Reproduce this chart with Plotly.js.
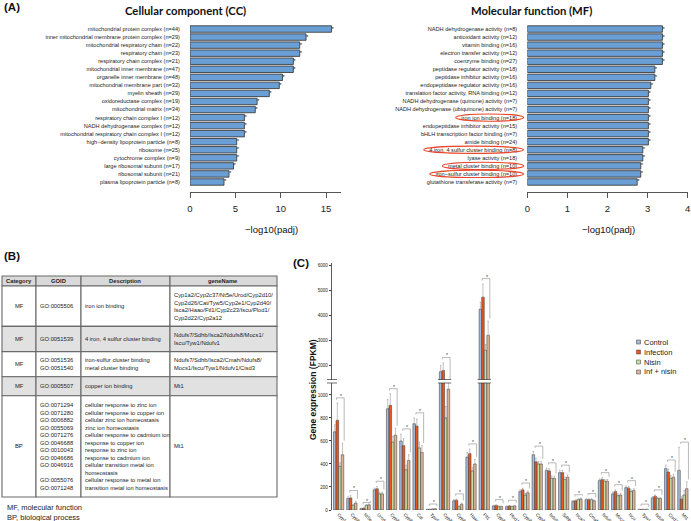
<!DOCTYPE html>
<html><head><meta charset="utf-8">
<script src="https://cdn.plot.ly/plotly-3.0.1.min.js"></script>
<style>html,body{margin:0;padding:0;background:#fff}#chart{width:691px;height:521px}</style>
</head><body><div id="chart"></div>
<script>
// ---------- Panel A data ----------
const ccTerms = [
  "mitochondrial protein complex (n=44)",
  "inner mitochondrial membrane protein complex (n=29)",
  "mitochondrial respiratory chain (n=22)",
  "respiratory chain (n=23)",
  "respiratory chain complex (n=21)",
  "mitochondrial inner membrane (n=47)",
  "organelle inner membrane (n=48)",
  "mitochondrial membrane part (n=32)",
  "myelin sheath (n=29)",
  "oxidoreductase complex (n=19)",
  "mitochondrial matrix (n=34)",
  "respiratory chain complex I (n=12)",
  "NADH dehydrogenase complex (n=12)",
  "mitochondrial respiratory chain complex I (n=12)",
  "high−density lipoprotein particle (n=8)",
  "ribosome (n=25)",
  "cytochrome complex (n=9)",
  "large ribosomal subunit (n=17)",
  "ribosomal subunit (n=21)",
  "plasma lipoprotein particle (n=8)"
];
const ccValues = [15.6,12.8,12.1,12.1,11.4,11.4,10.2,9.85,8.75,7.4,7.2,6.0,6.0,6.0,5.15,5.15,5.15,4.8,4.3,3.75];

const mfTerms = [
  "NADH dehydrogenase activity (n=8)",
  "antioxidant activity (n=12)",
  "vitamin binding (n=16)",
  "electron transfer activity (n=12)",
  "coenzyme binding (n=27)",
  "peptidase regulator activity (n=18)",
  "peptidase inhibitor activity (n=16)",
  "endopeptidase regulator activity (n=16)",
  "translation factor activity, RNA binding (n=12)",
  "NADH dehydrogenase (quinone) activity (n=7)",
  "NADH dehydrogenase (ubiquinone) activity (n=7)",
  "iron ion binding (n=18)",
  "endopeptidase inhibitor activity (n=15)",
  "bHLH transcription factor binding (n=7)",
  "amide binding (n=24)",
  "4 iron, 4 sulfur cluster binding (n=8)",
  "lyase activity (n=18)",
  "metal cluster binding (n=10)",
  "iron−sulfur cluster binding (n=10)",
  "glutathione transferase activity (n=7)"
];
const mfValues = [3.37,3.37,3.37,3.37,3.37,3.18,3.18,3.08,3.02,3.02,3.02,3.02,3.02,3.02,3.02,2.88,2.88,2.83,2.83,2.74];
const mfHighlighted = ["iron ion binding (n=18)","4 iron, 4 sulfur cluster binding (n=8)","metal cluster binding (n=10)","iron−sulfur cluster binding (n=10)"];
const ccTicks = [0,5,10,15];
const mfTicks = [0,1,2,3,4];

// ---------- Panel B data ----------
const tableHeader = ["Category","GOID","Description","geneName"];
const tableCategory = ["MF","MF","MF","MF","BP"];
const tableGOID = [
  ["GO:0005506"],
  ["GO:0051539"],
  ["GO:0051536","GO:0051540"],
  ["GO:0005507"],
  ["GO:0071294","GO:0071280","GO:0006882","GO:0055069","GO:0071276","GO:0046688","GO:0010043","GO:0046686","GO:0046916","","GO:0055076","GO:0071248"]
];
const tableDescription = [
  ["iron ion binding"],
  ["4 iron, 4 sulfur cluster binding"],
  ["iron-sulfur cluster binding","metal cluster binding"],
  ["copper ion binding"],
  ["cellular response to zinc ion","cellular response to copper ion","cellular zinc ion homeostasis","zinc ion homeostasis","cellular response to cadmium ion","response to copper ion","response to zinc ion","response to cadmium ion","cellular transition metal ion","homeostasis","cellular response to metal ion","transition metal ion homeostasis"]
];
const tableGeneName = [
  ["Cyp1a2/Cyp2c37/Nt5e/Urod/Cyp2d10/","Cyp2d26/Cat/Tyw5/Cyp2e1/Cyp2d40/","Isca2/Haao/Ftl1/Cyp2c23/Iscu/Plod1/","Cyp2d22/Cyp2a12"],
  ["Ndufs7/Sdhb/Isca2/Ndufs8/Mocs1/","Iscu/Tyw1/Ndufv1"],
  ["Ndufs7/Sdhb/Isca2/Cmah/Ndufs8/","Mocs1/Iscu/Tyw1/Ndufv1/Cisd3"],
  ["Mt1"],
  ["Mt1"]
];
const footnotes = ["MF, molecular function","BP, biological process"];

// ---------- Panel C data ----------
const genes = ["Cyp1a2","Cyp2c37","Nt5e","Urod","Cyp2d10","Cyp2d26","Cat","Tyw5","Cyp2e1","Cyp2d40","Haao","Ftl1","Cyp2c23","Plod1","Cyp2d22","Cyp2a12","Ndufs7","Sdhb","Isca2","Cmah","Ndufs8","Mocs1","Iscu","Tyw1","Ndufv1","Cisd3","Mt1"];
const seriesNames = ["Control","Infection","Nisin","Inf + nisin"];
const control   = [680,100,12,175,880,600,750,5,1750,80,460,4240,35,30,160,480,345,325,75,90,255,140,195,5,105,360,345];
const infection = [780,105,15,185,910,560,730,5,1800,85,490,4720,40,35,175,420,340,325,80,90,265,160,190,5,120,330,95];
const nisin     = [380,40,40,140,590,350,540,8,800,30,340,2600,30,30,130,400,275,265,90,90,250,125,160,5,100,275,130];
const infNisin  = [480,60,45,140,650,430,500,10,1050,50,400,3200,30,35,150,400,275,285,95,80,250,130,170,5,100,285,185];
const controlErr   = [60,15,5,15,80,60,50,2,250,10,40,280,5,5,15,30,20,20,8,8,15,15,15,1,10,30,200];
const infectionErr = [150,20,5,20,100,60,60,2,300,10,40,520,5,5,15,30,20,20,8,8,15,15,15,1,10,25,20];
const nisinErr     = [30,10,8,15,50,40,50,2,100,5,30,240,5,5,15,20,20,20,8,8,15,15,15,1,10,25,40];
const infNisinErr  = [100,15,8,15,60,50,60,2,250,10,40,560,5,5,15,20,20,20,8,8,15,15,15,1,10,25,60];
const lowerTicks = [0,200,400,600,800,1000];
const upperTicks = [2000,3000,4000,5000,6000];

// ---------- layout helpers ----------
const W = 691, H = 521;
const fx = p => p / W, fy = p => 1 - p / H;
const FONT = "Liberation Sans, Arial, sans-serif";
const TITLEFONT = "Lato, Liberation Sans, sans-serif";
const barBlue = "#6a9fd5";
const seriesColors = ["#a2bbd9","#e8561f","#c8dea4","#ddb596"];
const seriesVals = [control, infection, nisin, infNisin];
const seriesErrs = [controlErr, infectionErr, nisinErr, infNisinErr];

const lowerMax = 1104, upperMin = 1440, upperMax = 6080;

const traces = [];
const shapes = [];
const annotations = [];

// Panel A bars
traces.push({type:'bar', orientation:'h', x:ccValues, y:ccTerms, xaxis:'x', yaxis:'y', width:0.8,
  marker:{color:barBlue, line:{color:'#404040', width:0.9}}, hoverinfo:'skip'});
traces.push({type:'scatter', mode:'text', x:ccValues, y:ccTerms, xaxis:'x', yaxis:'y', text:ccValues.map(()=>'*'),
  textposition:'middle right', textfont:{size:6, family:FONT, color:'#222'}, cliponaxis:false, hoverinfo:'skip'});
traces.push({type:'bar', orientation:'h', x:mfValues, y:mfTerms, xaxis:'x2', yaxis:'y2', width:0.8,
  marker:{color:barBlue, line:{color:'#404040', width:0.9}}, hoverinfo:'skip'});
traces.push({type:'scatter', mode:'text', x:mfValues, y:mfTerms, xaxis:'x2', yaxis:'y2', text:mfValues.map(()=>'*'),
  textposition:'middle right', textfont:{size:6, family:FONT, color:'#222'}, cliponaxis:false, hoverinfo:'skip'});

// Panel C bars (lower and upper segment of broken axis)
['y3','y4'].forEach(ax => {
  seriesVals.forEach((vals, s) => {
    traces.push({type:'bar', x:genes, y:vals, xaxis:'x3', yaxis:ax, name:seriesNames[s], showlegend:false,
      marker:{color:seriesColors[s], line:{color:'#333', width:0.5}},
      error_y:{type:'data', symmetric:false, array:seriesErrs[s], arrayminus:vals.map(()=>0), color:'#9a9a9a', thickness:0.6, width:0.8},
      hoverinfo:'skip'});
  });
});

// Significance brackets computed from data
const brLine = {color:'#8a8a8a', width:0.6};
genes.forEach((g, i) => {
  const peak = Math.max(control[i]+controlErr[i], infection[i]+infectionErr[i]);
  const upper = peak > lowerMax;
  const ax = upper ? 'y4' : 'y3';
  const pad = upper ? 220 : 45;
  const top = peak + pad;
  let bottom = infNisin[i] + infNisinErr[i] + pad * 0.5;
  if (upper) bottom = Math.max(bottom, upperMin);
  const xl = i - 0.16, xr = i + 0.42;
  shapes.push({type:'line', xref:'x3', yref:ax, x0:xl, x1:xr, y0:top, y1:top, line:brLine});
  shapes.push({type:'line', xref:'x3', yref:ax, x0:xl, x1:xl, y0:top, y1:top - pad*0.35, line:brLine});
  shapes.push({type:'line', xref:'x3', yref:ax, x0:xr, x1:xr, y0:top, y1:bottom, line:brLine});
  annotations.push({xref:'x3', yref:ax, x:i+0.18, y:top, text:'*', showarrow:false, xanchor:'center', yanchor:'bottom', yshift:-3,
    font:{size:5, family:FONT, color:'#333'}});
  if (Math.max(control[i], infection[i], nisin[i], infNisin[i]) > lowerMax) {
    [379.5, 383].forEach(py => shapes.push({type:'line', xref:'x3', yref:'paper', x0:i-0.5, x1:i+0.5, y0:fy(py), y1:fy(py), line:{color:'#333', width:0.7}}));
  }
});
// axis break marks
[379.5, 383].forEach(py => shapes.push({type:'line', xref:'paper', yref:'paper', x0:fx(327), x1:fx(337), y0:fy(py), y1:fy(py), line:{color:'#333', width:0.7}}));

// custom legend for panel C
seriesNames.forEach((n, s) => {
  const cy = 342 + s * 10;
  shapes.push({type:'rect', xref:'paper', yref:'paper', x0:fx(636.5), x1:fx(640.5), y0:fy(cy+2), y1:fy(cy-2),
    fillcolor:seriesColors[s], line:{color:'#555', width:0.6}});
  annotations.push({xref:'paper', yref:'paper', x:fx(641.5), y:fy(cy), xanchor:'left', yanchor:'middle', text:n,
    showarrow:false, font:{size:7.5, family:FONT, color:'#222'}});
});

// red ellipses around highlighted MF labels
const ctx = document.createElement('canvas').getContext('2d');
ctx.font = '5.6px "Liberation Sans"';
const labelRight = 516.5;
mfHighlighted.forEach(lbl => {
  const idx = mfTerms.indexOf(lbl);
  const w = ctx.measureText(lbl).width;
  shapes.push({type:'circle', xref:'paper', yref:'y2', x0:fx(labelRight - w - 5), x1:fx(labelRight + 7),
    y0:idx-0.45, y1:idx+0.45, line:{color:'#e8472b', width:1.1}});
});

// Panel titles and labels
const ann = (x, y, text, size, extra) => annotations.push(Object.assign({xref:'paper', yref:'paper', x:fx(x), y:fy(y),
  text, showarrow:false, xanchor:'center', yanchor:'middle', font:{size, family:FONT, color:'#111'}}, extra||{}));
ann(2, 7.5, '<b>(A)</b>', 11.5, {xanchor:'left'});
ann(2, 256, '<b>(B)</b>', 11.5, {xanchor:'left'});
ann(291, 263, '<b>(C)</b>', 11.5, {xanchor:'left'});
ann(186, 10.5, '<b>Cellular component (CC)</b>', 11, {font:{size:11.3, family:TITLEFONT, color:'#111'}});
ann(531, 10.5, '<b>Molecular function (MF)</b>', 11, {font:{size:11.3, family:TITLEFONT, color:'#111'}});
ann(271, 229, '−log10(padj)', 9.5);
ann(608, 229, '−log10(padj)', 9.5);
ann(313, 390, '<b>Gene expression (FPKM)</b>', 8.5, {textangle:-90});

// ---------- Panel B table (drawn from arrays) ----------
const colX = [2, 36, 81, 170, 277];
const lineH = 7.6, cellPad = 5;
let yTop = 276;
const headerH = 10;
const fillHead = '#d9d9d9', fillGray = '#e1e1e1';
const tblLine = {color:'#6a6a6a', width:1.1};
function cell(x0, x1, y0, y1, fill) {
  shapes.push({type:'rect', xref:'paper', yref:'paper', x0:fx(x0), x1:fx(x1), y0:fy(y1), y1:fy(y0), fillcolor:fill, line:tblLine, layer:'below'});
}
const tfont = {size:5.8, family:FONT, color:'#222'};
tableHeader.forEach((h, c) => {
  cell(colX[c], colX[c+1], yTop, yTop+headerH, fillHead);
  annotations.push({xref:'paper', yref:'paper', x:fx((colX[c]+colX[c+1])/2), y:fy(yTop+headerH/2), xanchor:'center', yanchor:'middle',
    text:'<b>'+h+'</b>', showarrow:false, font:tfont});
});
yTop += headerH;
tableCategory.forEach((cat, r) => {
  const cols = [[cat], tableGOID[r], tableDescription[r], tableGeneName[r]];
  const nLines = Math.max(...cols.map(a => a.length));
  const rh = Math.max(19, 2*cellPad + nLines*lineH);
  const fill = (r % 2 === 1) ? fillGray : '#ffffff';
  cols.forEach((lines, c) => {
    cell(colX[c], colX[c+1], yTop, yTop+rh, fill);
    const centered = c === 0;
    annotations.push({xref:'paper', yref:'paper', x:centered ? fx((colX[c]+colX[c+1])/2) : fx(colX[c]+1.5),
      xanchor: centered ? 'center' : 'left', align: centered ? 'center' : 'left',
      y:fy(yTop+rh/2), yanchor:'middle', text:lines.map(t => t === '' ? ' ' : t).join('<br>'), showarrow:false, font:tfont});
  });
  yTop += rh;
});
footnotes.forEach((t, k) => ann(5, 507 + k*10, t, 7.5, {xanchor:'left', font:{size:7.5, family:FONT, color:'#222'}}));

// ---------- layout ----------
const catAxisA = (terms) => ({type:'category', categoryorder:'array', categoryarray:terms, range:[terms.length-0.5, -0.5],
  tickmode:'array', tickvals:terms, ticks:'outside', ticklen:8, tickcolor:'rgba(0,0,0,0)', showline:false, showgrid:false, zeroline:false,
  tickfont:{size:5.6, family:FONT, color:'#222'}, fixedrange:true});
const layout = {
  width:W, height:H, autosize:false, margin:{l:0,r:0,t:0,b:0}, paper_bgcolor:'#fff', plot_bgcolor:'rgba(0,0,0,0)',
  showlegend:false, bargap:0.22, bargroupgap:0, barmode:'group',
  font:{family:FONT},
  xaxis:{domain:[fx(190), fx(341)], range:[0, (341-190)/9.067], anchor:'free', position:fy(192), showline:true, linecolor:'#555', linewidth:1,
    ticks:'outside', ticklen:5, tickcolor:'#555', tickvals:ccTicks, showgrid:false, zeroline:false, ticklabelstandoff:3,
    tickfont:{size:9.5, family:FONT, color:'#222'}},
  yaxis:Object.assign(catAxisA(ccTerms), {domain:[fy(186), fy(25)], anchor:'x'}),
  xaxis2:{domain:[fx(527.3), fx(687.7)], range:[0,4], anchor:'free', position:fy(192), showline:true, linecolor:'#555', linewidth:1,
    ticks:'outside', ticklen:5, tickcolor:'#555', tickvals:mfTicks, showgrid:false, zeroline:false, ticklabelstandoff:3,
    tickfont:{size:9.5, family:FONT, color:'#222'}},
  yaxis2:Object.assign(catAxisA(mfTerms), {domain:[fy(186), fy(25)], anchor:'x2'}),
  xaxis3:{domain:[fx(332), fx(689.5)], anchor:'y3', type:'category', range:[-0.5, genes.length-0.5], tickmode:'array', tickvals:genes,
    tickangle:45, ticks:'', showline:false, showgrid:false, zeroline:false, tickfont:{size:4.6, family:FONT, color:'#222'}},
  yaxis3:{domain:[fy(510), fy(383)], range:[0, lowerMax], anchor:'x3', showline:true, linecolor:'#333', linewidth:0.8,
    ticks:'outside', ticklen:2.5, tickcolor:'#333', tickvals:lowerTicks, showgrid:false, zeroline:false, tickfont:{size:4.5, family:FONT, color:'#222'}},
  yaxis4:{domain:[fy(379.5), fy(263)], range:[upperMin, upperMax], anchor:'x3', showline:true, linecolor:'#333', linewidth:0.8,
    ticks:'outside', ticklen:2.5, tickcolor:'#333', tickvals:upperTicks, showgrid:false, zeroline:false, tickfont:{size:4.5, family:FONT, color:'#222'}},
  shapes, annotations
};
Plotly.newPlot('chart', traces, layout, {displayModeBar:false, staticPlot:true});
</script></body></html>
